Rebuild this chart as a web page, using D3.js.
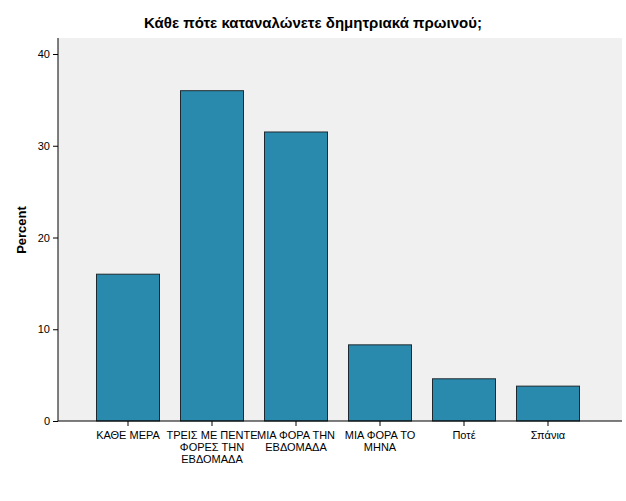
<!DOCTYPE html><html><head><meta charset="utf-8"><script src="https://cdn.jsdelivr.net/npm/d3@7"></script>
<style>body{margin:0;background:#fff}text{font-family:Arial,"Liberation Sans",sans-serif}</style></head><body><svg width="626" height="501"></svg>
<script>
const categories=[["ΚΑΘΕ ΜΕΡΑ"],["ΤΡΕΙΣ ΜΕ ΠΕΝΤΕ","ΦΟΡΕΣ ΤΗΝ","ΕΒΔΟΜΑΔΑ"],["ΜΙΑ ΦΟΡΑ ΤΗΝ","ΕΒΔΟΜΑΔΑ"],["ΜΙΑ ΦΟΡΑ ΤΟ","ΜΗΝΑ"],["Ποτέ"],["Σπάνια"]];
const values=[16.0,36.0,31.5,8.3,4.6,3.8];
const yTicks=[0,10,20,30,40];
const svg=d3.select("svg");
const L=58,R=622,T=38,B=421;
svg.append("rect").attr("x",L).attr("y",T).attr("width",R-L).attr("height",B-T).attr("fill","#f0f0f0");
const y=d3.scaleLinear().domain([0,40]).range([B,54]);
const x=d3.scaleBand().domain(d3.range(categories.length)).range([86,590]).paddingInner(0.25).paddingOuter(0.125);
svg.selectAll(".bar").data(values).join("rect").attr("x",(d,i)=>x(i)).attr("y",d=>y(d)).attr("width",x.bandwidth()).attr("height",d=>B-y(d)).attr("fill","#2a8aad").attr("stroke","#1f2a30").attr("stroke-width",1);
const ya=svg.append("g").attr("transform",`translate(${L},0)`).call(d3.axisLeft(y).tickValues(yTicks).tickSize(5).tickSizeOuter(0));
ya.select(".domain").attr("d",`M0,${T}V${B}`);
const xa=svg.append("g").attr("transform",`translate(0,${B})`).call(d3.axisBottom(x).tickSize(5).tickSizeOuter(0).tickFormat(""));
xa.select(".domain").attr("d",`M${L},0H${R}`);
svg.selectAll(".domain,.tick line").attr("stroke","#000");
svg.selectAll(".tick text").attr("font-size",11).attr("fill","#000");
categories.forEach((c,i)=>{const t=svg.append("text").attr("text-anchor","middle").attr("font-size",11).attr("x",x(i)+x.bandwidth()/2).attr("y",B+18);
c.forEach((s,j)=>t.append("tspan").attr("x",x(i)+x.bandwidth()/2).attr("dy",j?12:0).text(s));});
svg.append("text").attr("transform","translate(26,230) rotate(-90)").attr("text-anchor","middle").attr("font-size",13).attr("font-weight","bold").text("Percent");
svg.append("text").attr("x",313).attr("y",28).attr("text-anchor","middle").attr("font-size",15).attr("font-weight","bold").text("Κάθε πότε καταναλώνετε δημητριακά πρωινού;");
</script></body></html>
